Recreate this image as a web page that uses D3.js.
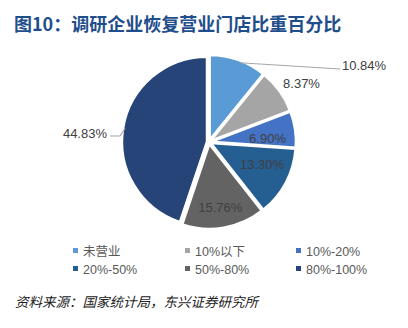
<!DOCTYPE html>
<html>
<head>
<meta charset="utf-8">
<script src="https://cdn.jsdelivr.net/npm/d3@7/dist/d3.min.js"></script>
<style>
  html, body { margin: 0; padding: 0; background: #fff; }
  svg { display: block; }
</style>
</head>
<body>
<svg id="chart" width="408" height="328"></svg>
<script>
// Share of surveyed enterprises' stores that have reopened
const categories = ["未营业", "10%以下", "10%-20%", "20%-50%", "50%-80%", "80%-100%"];
const shares = [10.84, 8.37, 6.90, 13.30, 15.76, 44.83];
const colors = ["#5b9bd5", "#a5a5a5", "#4472c4", "#255e91", "#636363", "#264478"];

const svg = d3.select("#chart");

svg.append("text")
  .attr("x", 14).attr("y", 31)
  .attr("font-family", "'Noto Sans CJK SC', sans-serif")
  .attr("font-weight", "bold")
  .attr("font-size", 18)
  .attr("fill", "#1f4e8c")
  .text("图10：调研企业恢复营业门店比重百分比");

const cx = 209, cy = 142, r = 85;
const pie = d3.pie().sort(null).value(d => d.v);
const arcs = pie(categories.map((c, i) => ({ c, v: shares[i], i })));
const arc = d3.arc().innerRadius(0).outerRadius(r);

const g = svg.append("g").attr("transform", `translate(${cx},${cy})`);
const explode = 2;
g.selectAll("path.slice").data(arcs).enter().append("path")
  .attr("class", "slice")
  .attr("d", arc)
  .attr("fill", d => colors[d.data.i])
  .attr("stroke", "#fff")
  .attr("stroke-width", 2.5)
  .attr("transform", d => {
    const a = (d.startAngle + d.endAngle) / 2;
    return `translate(${explode * Math.sin(a)},${-explode * Math.cos(a)})`;
  });

const polar = (ang, rad) => [cx + rad * Math.sin(ang), cy - rad * Math.cos(ang)];
const labelFont = "'Liberation Sans', Arial, sans-serif";
const labelSize = 13;

// label placement: angle offset (rad) and radius factor; outer labels get a leader line
const labelSpec = [
  { outer: true, tx: 342, ty: 70, anchor: "start", from: d => polar(d.startAngle + 0.37, r), to: [340, 69] },
  { fr: 1.29, da: 0.06 },
  { fr: 0.69, da: 0.08 },
  { fr: 0.68, da: -0.08 },
  { fr: 0.78, da: 0 },
  { outer: true, tx: 107, ty: 137.5, anchor: "end", from: d => polar((d.startAngle + d.endAngle) / 2, r), elbow: [120, 136], to: [110, 136] }
];

arcs.forEach((d, k) => {
  const s = labelSpec[k];
  const txt = shares[k].toFixed(2) + "%";
  let x, y, anchor = "middle";
  if (s.outer) {
    const pts = [s.from(d)];
    if (s.elbow) pts.push(s.elbow);
    pts.push(s.to);
    svg.append("polyline")
      .attr("points", pts.map(p => p.join(",")).join(" "))
      .attr("fill", "none").attr("stroke", "#a6a6a6").attr("stroke-width", 1.2);
    x = s.tx; y = s.ty; anchor = s.anchor;
  } else {
    const a = (d.startAngle + d.endAngle) / 2 + s.da;
    [x, y] = polar(a, r * s.fr);
    y += 4.5;
  }
  svg.append("text")
    .attr("x", x).attr("y", y)
    .attr("text-anchor", anchor)
    .attr("font-family", labelFont).attr("font-size", labelSize)
    .attr("fill", "#404040")
    .text(txt);
});

// legend: two rows of three
const legX = [73, 185, 296], legY = [251, 269];
categories.forEach((c, i) => {
  const x = legX[i % 3], y = legY[Math.floor(i / 3)];
  svg.append("rect").attr("x", x).attr("y", y - 3).attr("width", 5).attr("height", 5)
    .attr("fill", colors[i]);
  svg.append("text")
    .attr("x", x + 10).attr("y", y + 4.5)
    .attr("font-family", "'Liberation Sans', 'Noto Sans CJK SC', sans-serif")
    .attr("font-size", 12.5)
    .attr("fill", "#595959")
    .text(c);
});

svg.append("text")
  .attr("x", 15).attr("y", 307)
  .attr("font-family", "'Noto Sans CJK SC', sans-serif")
  .attr("font-style", "italic")
  .attr("font-size", 13.5)
  .attr("fill", "#222")
  .text("资料来源：国家统计局，东兴证券研究所");
</script>
</body>
</html>
